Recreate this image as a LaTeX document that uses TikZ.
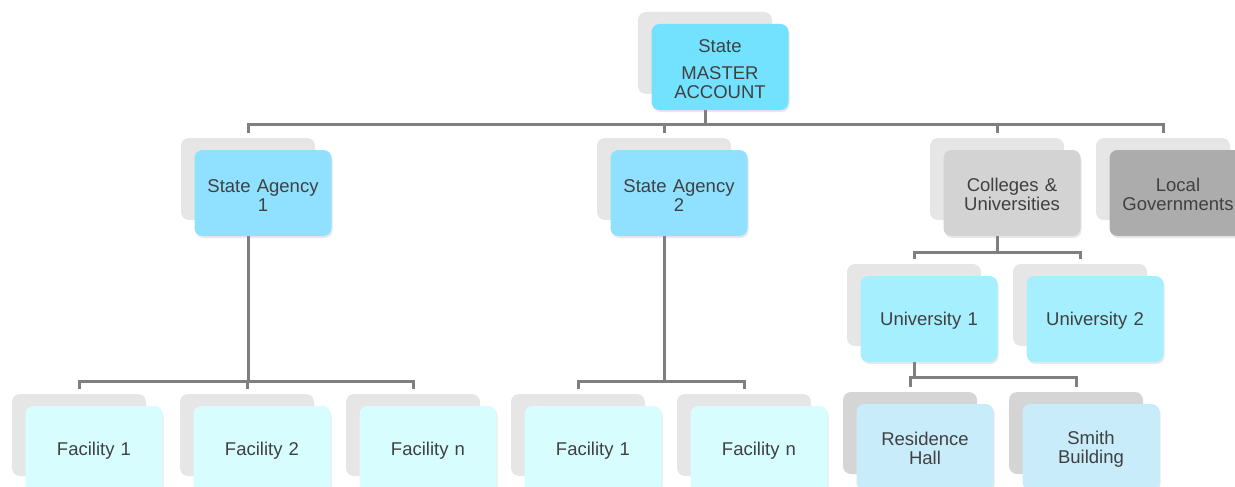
\documentclass[tikz,border=0pt]{standalone}
\usepackage{fontspec}
\setmainfont{Liberation Sans}
\usetikzlibrary{positioning,shadows}

\definecolor{backgray}{HTML}{E6E6E6}
\definecolor{backdark}{HTML}{D5D5D5}
\definecolor{linegray}{HTML}{7F7F7F}
\definecolor{textgray}{HTML}{404040}
\definecolor{mastercyan}{HTML}{72E2FF}
\definecolor{agencycyan}{HTML}{8FE1FF}
\definecolor{facilitycyan}{HTML}{D7FDFF}
\definecolor{univcyan}{HTML}{A5EFFF}
\definecolor{buildblue}{HTML}{C8ECFA}
\definecolor{colgray}{HTML}{D3D3D3}
\definecolor{locgray}{HTML}{ACACAC}

\begin{document}
\begin{tikzpicture}[x=1pt, y=-1pt]
        \tikzstyle{back}=[rectangle, rounded corners=8pt, fill=backgray, minimum width=134pt, minimum height=82pt, inner sep=0pt];
        \tikzstyle{front}=[rectangle, rounded corners=8pt, minimum width=137pt, minimum height=86pt, inner sep=0pt, text width=130pt, text height=17pt, align=center, text=textgray, font=\fontsize{18.5}{19}\selectfont, drop shadow={shadow xshift=1pt, shadow yshift=-2pt, opacity=0.18}];
        \tikzstyle{link}=[draw=linegray, line width=3pt, shorten >=5pt];

        \path[use as bounding box] (0,0) rectangle (1235,487);
        \clip (0,0) rectangle (1235,487);

        % shadow boxes
        \node[back] (master-b) at (705, 53) {};
        \node[back] (ag1-b) at (248, 179) {};
        \node[back] (ag2-b) at (664, 179) {};
        \node[back] (col-b) at (997, 179) {};
        \node[back] (loc-b) at (1163, 179) {};

        \node[back] (uni1-b) at (914, 305) {};
        \node[back] (uni2-b) at (1080, 305) {};
        \node[back, fill=backdark] (res-b) at (910, 433) {};
        \node[back, fill=backdark] (smith-b) at (1076, 433) {};

        \node[back] (fac11-b) at (79, 435) {};
        \node[back] (fac12-b) at (247, 435) {};
        \node[back] (fac1n-b) at (413, 435) {};
        \node[back] (fac21-b) at (578, 435) {};
        \node[back] (fac2n-b) at (744, 435) {};

        % connectors
        \draw[link] (master-b.south) -- ++(0,30) -| (ag1-b.north);
        \draw[link] (master-b.south) -- ++(0,30) -| (ag2-b.north);
        \draw[link] (master-b.south) -- ++(0,30) -| (col-b.north);
        \draw[link] (master-b.south) -- ++(0,30) -| (loc-b.north);

        \draw[link] (ag1-b.south) -- ++(0,161) -| (fac11-b.north);
        \draw[link] (ag1-b.south) -- ++(0,161) -| (fac12-b.north);
        \draw[link] (ag1-b.south) -- ++(0,161) -| (fac1n-b.north);
        \draw[link] (ag2-b.south) -- ++(0,161) -| (fac21-b.north);
        \draw[link] (ag2-b.south) -- ++(0,161) -| (fac2n-b.north);

        \draw[link] (col-b.south) -- ++(0,32) -| (uni1-b.north);
        \draw[link] (col-b.south) -- ++(0,32) -| (uni2-b.north);
        \draw[link] (uni1-b.south) -- ++(0,31) -| (res-b.north);
        \draw[link] (uni1-b.south) -- ++(0,31) -| (smith-b.north);

        % front boxes
        \node[front, fill=mastercyan] (master) at ([shift={(15,14)}]master-b.center) {State\\[8pt]MASTER\\ACCOUNT};
        \node[front, fill=agencycyan] (ag1) at ([shift={(15,14)}]ag1-b.center) {State Agency\\1};
        \node[front, fill=agencycyan] (ag2) at ([shift={(15,14)}]ag2-b.center) {State Agency\\2};
        \node[front, fill=colgray] (col) at ([shift={(15,14)}]col-b.center) {Colleges \&\\Universities};
        \node[front, fill=locgray] (loc) at ([shift={(15,14)}]loc-b.center) {Local\\Governments};

        \node[front, fill=univcyan] (uni1) at ([shift={(15,14)}]uni1-b.center) {University 1};
        \node[front, fill=univcyan] (uni2) at ([shift={(15,14)}]uni2-b.center) {University 2};
        \node[front, fill=buildblue] (res) at ([shift={(15,14)}]res-b.center) {Residence\\Hall};
        \node[front, fill=buildblue] (smith) at ([shift={(15,14)}]smith-b.center) {Smith\\Building};

        \node[front, fill=facilitycyan] (fac11) at ([shift={(15,14)}]fac11-b.center) {Facility 1};
        \node[front, fill=facilitycyan] (fac12) at ([shift={(15,14)}]fac12-b.center) {Facility 2};
        \node[front, fill=facilitycyan] (fac1n) at ([shift={(15,14)}]fac1n-b.center) {Facility n};
        \node[front, fill=facilitycyan] (fac21) at ([shift={(15,14)}]fac21-b.center) {Facility 1};
        \node[front, fill=facilitycyan] (fac2n) at ([shift={(15,14)}]fac2n-b.center) {Facility n};
\end{tikzpicture}
\end{document}
